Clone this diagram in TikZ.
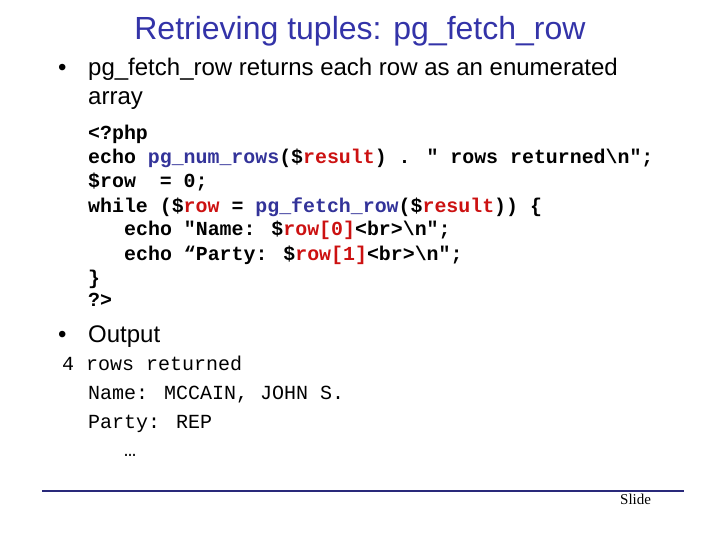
\documentclass[tikz,border=0pt]{standalone}
\usepackage{fontspec}
\setmainfont{Liberation Sans}
\newfontfamily\cmono{Liberation Mono}
\newfontfamily\sserif{Liberation Serif}
\definecolor{ttl}{HTML}{3333A8}
\definecolor{kw}{HTML}{333399}
\definecolor{rd}{HTML}{CC1111}
\begin{document}
\begin{tikzpicture}[x=1pt,y=1pt,
  code/.style={anchor=base west,inner sep=0pt,font=\cmono\bfseries\fontsize{19.9}{24}\selectfont},
  outp/.style={anchor=base west,inner sep=0pt,font=\cmono\fontsize{20}{24}\selectfont},
  bul/.style={anchor=base west,inner sep=0pt,font=\fontsize{24}{28}\selectfont}]
\useasboundingbox (0,0) rectangle (720,-540);
\node[anchor=base,inner sep=0pt,font=\fontsize{32}{36}\selectfont,text=ttl] (title) at (360,-40) {Retrieving tuples: pg\_fetch\_row};
\node[bul] (b1) at (58,-76) {\textbullet};
\node[bul] (t1) at (88,-76) {pg\_fetch\_row returns each row as an enumerated};
\node[bul] (t1b) at (88,-105) {array};
\node[code] (c1) at (88,-140) {<?php};
\node[code] (c2) at (88,-164) {echo \textcolor{kw}{pg\_num\_rows}(\$\textcolor{rd}{result}) . " rows returned\textbackslash n";};
\node[code] (c3) at (88,-188) {\$row\ \ = 0;};
\node[code] (c4) at (88,-212) {while (\$\textcolor{rd}{row} = \textcolor{kw}{pg\_fetch\_row}(\$\textcolor{rd}{result})) \{};
\node[code] (c5) at (124,-236) {echo "Name: \$\textcolor{rd}{row[0]}<br>\textbackslash n";};
\node[code] (c6) at (124,-260) {echo “Party: \$\textcolor{rd}{row[1]}<br>\textbackslash n";};
\node[code] (c7) at (88,-284) {\}};
\node[code] (c8) at (88,-306) {?>};
\node[bul] (b2) at (58,-342) {\textbullet};
\node[bul] (t2) at (88,-342) {Output};
\node[outp] (o1) at (62,-370) {4 rows returned};
\node[outp] (o2) at (88,-399) {Name: MCCAIN, JOHN S.};
\node[outp] (o3) at (88,-428) {Party: REP};
\node[outp] (o4) at (124,-456) {…};
\coordinate (l1) at (42,-491);
\coordinate (l2) at (684,-491);
\draw[kw!80!black,line width=1.8pt] (l1) -- (l2);
\node[anchor=base west,inner sep=0pt,font=\sserif\fontsize{15}{18}\selectfont] (slide) at (620,-504) {Slide};
\end{tikzpicture}
\end{document}
